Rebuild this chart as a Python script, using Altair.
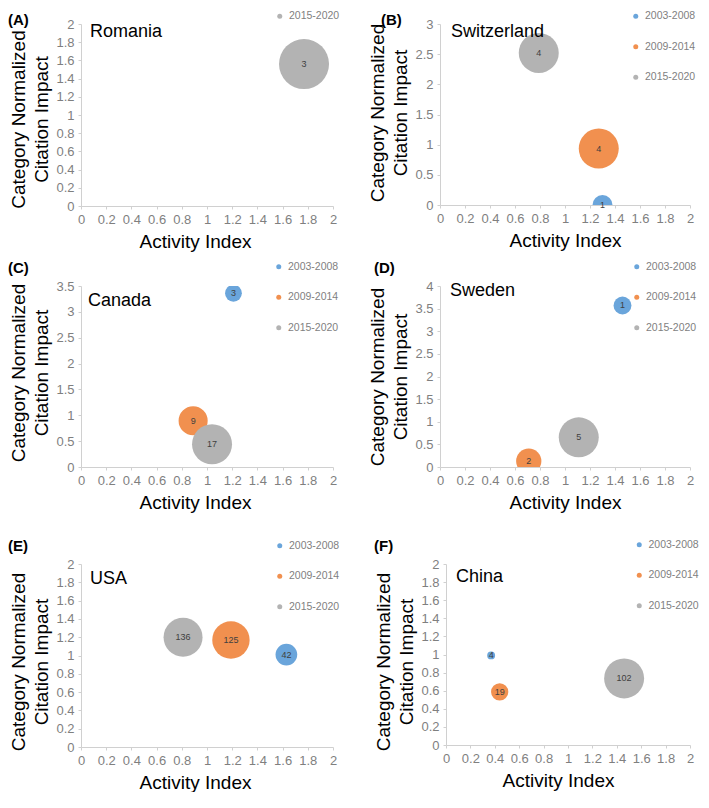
import altair as alt
import pandas as pd

FONT = "Liberation Sans"

PERIODS = ["2003-2008", "2009-2014", "2015-2020"]
PERIOD_COLORS = ["#6AA5DB", "#F1904F", "#B3B3B3"]

X_TICKS = [0, 0.2, 0.4, 0.6, 0.8, 1, 1.2, 1.4, 1.6, 1.8, 2]
Y_TICKS_2 = [0, 0.2, 0.4, 0.6, 0.8, 1, 1.2, 1.4, 1.6, 1.8, 2]
Y_TICKS_3 = [0, 0.5, 1, 1.5, 2, 2.5, 3]
Y_TICKS_35 = [0, 0.5, 1, 1.5, 2, 2.5, 3, 3.5]
Y_TICKS_4 = [0, 0.5, 1, 1.5, 2, 2.5, 3, 3.5, 4]

X_TITLE = "Activity Index"
Y_TITLE = ["Category Normalized", "Citation Impact"]

# (A) Romania
ROMANIA_PERIOD = ["2015-2020"]
ROMANIA_AI = [1.77]
ROMANIA_CNCI = [1.56]
ROMANIA_N = [3]

# (B) Switzerland
SWITZERLAND_PERIOD = ["2003-2008", "2009-2014", "2015-2020"]
SWITZERLAND_AI = [1.30, 1.27, 0.79]
SWITZERLAND_CNCI = [0.0, 0.935, 2.52]
SWITZERLAND_N = [1, 4, 4]

# (C) Canada
CANADA_PERIOD = ["2003-2008", "2009-2014", "2015-2020"]
CANADA_AI = [1.21, 0.89, 1.04]
CANADA_CNCI = [3.36, 0.895, 0.44]
CANADA_N = [3, 9, 17]

# (D) Sweden
SWEDEN_PERIOD = ["2003-2008", "2009-2014", "2015-2020"]
SWEDEN_AI = [1.46, 0.71, 1.11]
SWEDEN_CNCI = [3.57, 0.13, 0.655]
SWEDEN_N = [1, 2, 5]

# (E) USA
USA_PERIOD = ["2003-2008", "2009-2014", "2015-2020"]
USA_AI = [1.63, 1.19, 0.81]
USA_CNCI = [1.01, 1.17, 1.20]
USA_N = [42, 125, 136]

# (F) China
CHINA_PERIOD = ["2003-2008", "2009-2014", "2015-2020"]
CHINA_AI = [0.37, 0.44, 1.46]
CHINA_CNCI = [0.99, 0.587, 0.736]
CHINA_N = [4, 19, 102]


def panel(tag, country, periods, ai, cnci, n, y_ticks, width, height, max_diam,
          tag_pos, country_pos, legend_pos, xtitle_dx, ytitle_dy):
    df = pd.DataFrame({"period": periods, "ai": ai, "cnci": cnci, "n": n})
    colors = [PERIOD_COLORS[PERIODS.index(p)] for p in periods]
    area = max_diam * max_diam  # Vega symbol size = bounding-box area

    x = alt.X(
        "ai:Q",
        scale=alt.Scale(domain=[0, 2], nice=False),
        axis=alt.Axis(values=X_TICKS, format="~g", title=X_TITLE,
                      titleX=width / 2 + xtitle_dx, titleY=41,
                      titleBaseline="alphabetic", titleAlign="center",
                      labelFlush=False),
    )
    y = alt.Y(
        "cnci:Q",
        scale=alt.Scale(domain=[0, y_ticks[-1]], nice=False),
        axis=alt.Axis(values=y_ticks, format="~g", title=Y_TITLE,
                      titleX=-57, titleY=height / 2 + ytitle_dy,
                      titleAngle=270, titleBaseline="alphabetic",
                      titleAlign="center", titleLineHeight=23,
                      labelFlush=False),
    )
    color = alt.Color(
        "period:N",
        scale=alt.Scale(domain=periods, range=colors),
        legend=alt.Legend(title=None, orient="none",
                          legendX=legend_pos[0], legendY=legend_pos[1],
                          direction="vertical", symbolType="circle",
                          symbolSize=25, symbolOpacity=1, symbolStrokeWidth=0,
                          labelFont=FONT, labelFontSize=10.5,
                          labelColor="#7F7F7F", labelOffset=4,
                          rowPadding=19.5, padding=0),
    )
    size = alt.Size("n:Q", scale=alt.Scale(domain=[0, max(n)], range=[0, area]),
                    legend=None)

    points = alt.Chart(df).mark_circle(opacity=1, clip=True).encode(
        x=x, y=y, color=color, size=size)
    nums = alt.Chart(df).mark_text(font=FONT, fontSize=9, color="#404040").encode(
        x=x, y=y, text="n:Q")
    name = alt.Chart(pd.DataFrame({"name": [country]})).mark_text(
        align="left", baseline="alphabetic", font=FONT, fontSize=18, color="#000000"
    ).encode(x=alt.value(country_pos[0]), y=alt.value(country_pos[1]), text="name:N")
    label = alt.Chart(pd.DataFrame({"tag": [tag]})).mark_text(
        align="left", baseline="top", font=FONT, fontSize=15, fontWeight="bold",
        color="#000000"
    ).encode(x=alt.value(tag_pos[0]), y=alt.value(tag_pos[1]), text="tag:N")

    return alt.layer(points, nums, name, label).properties(width=width, height=height)


A = panel("(A)", "Romania", ROMANIA_PERIOD, ROMANIA_AI, ROMANIA_CNCI, ROMANIA_N,
          Y_TICKS_2, 252, 182, 50, (-73, -11), (9, 13), (193.5, -13), -12, 4)
B = panel("(B)", "Switzerland", SWITZERLAND_PERIOD, SWITZERLAND_AI, SWITZERLAND_CNCI,
          SWITZERLAND_N, Y_TICKS_3, 250, 181, 40, (-59, -11), (11, 13),
          (190.5, -13), 0, -2)
C = panel("(C)", "Canada", CANADA_PERIOD, CANADA_AI, CANADA_CNCI, CANADA_N,
          Y_TICKS_35, 252, 181, 40, (-73, -25), (7, 20), (192.5, -24.5), -12, -4)
D = panel("(D)", "Sweden", SWEDEN_PERIOD, SWEDEN_AI, SWEDEN_CNCI, SWEDEN_N,
          Y_TICKS_4, 250, 181, 40, (-66, -25), (10, 10), (191.5, -24.5), 0, 0)
E = panel("(E)", "USA", USA_PERIOD, USA_AI, USA_CNCI, USA_N,
          Y_TICKS_2, 252, 183, 39, (-73, -25), (9, 20), (193.5, -23.5), -12, 6)
F = panel("(F)", "China", CHINA_PERIOD, CHINA_AI, CHINA_CNCI, CHINA_N,
          Y_TICKS_2, 244, 181, 40, (-72, -25), (10, 18), (188, -24.5), -10, 7)


def indep(c):
    return c.resolve_scale(color="independent", size="independent",
                           x="independent", y="independent").resolve_legend(
        color="independent", size="independent")


row1 = indep(alt.hconcat(A, B, spacing=107, bounds="flush"))
row2 = indep(alt.hconcat(C, D, spacing=107, bounds="flush"))
row3 = indep(alt.hconcat(E, F, spacing=113, bounds="flush"))
top2 = indep(alt.vconcat(row1, row2, spacing=10))

chart = indep(alt.vconcat(top2, row3, spacing=27)).properties(
    padding={"left": 0, "top": 3, "right": 0, "bottom": 0}
).configure_view(
    strokeWidth=0
).configure_axis(
    domainColor="#D0D0D0", tickColor="#D0D0D0", tickSize=3,
    labelColor="#7F7F7F", labelFont=FONT, labelFontSize=13, labelPadding=4,
    titleFont=FONT, titleFontSize=19, titleFontWeight="normal",
    titleColor="#000000", grid=False,
)

chart.save("out.html", embed_options={"renderer": "svg", "actions": False})
